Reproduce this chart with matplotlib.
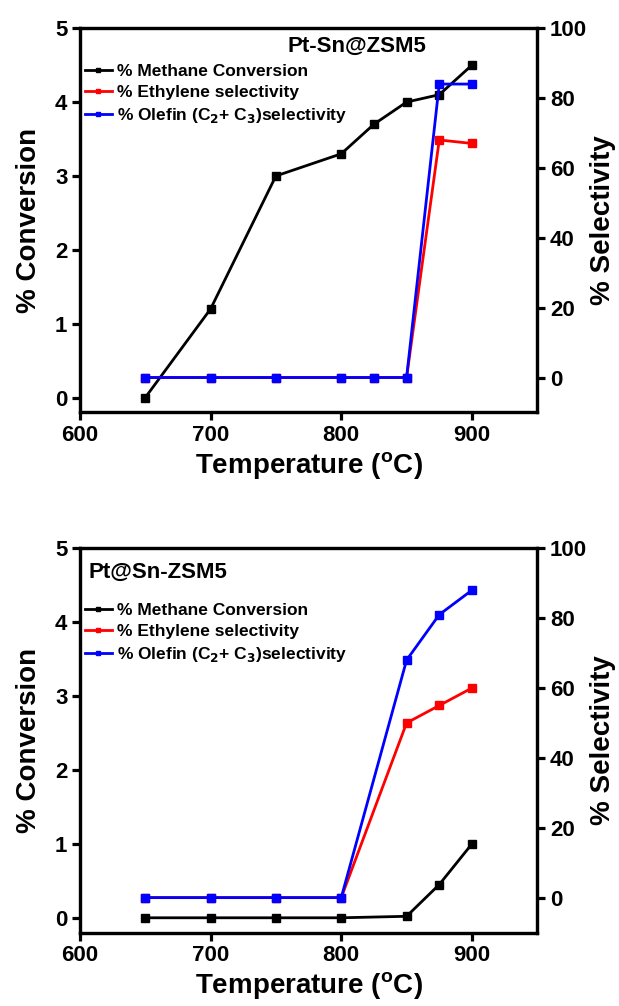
import numpy as np
import matplotlib
matplotlib.use("Agg")
import matplotlib.pyplot as plt

plt.rcParams['font.family'] = ['Liberation Sans', 'DejaVu Sans']
plt.rcParams['font.weight'] = 'bold'
plt.rcParams['mathtext.default'] = 'bf'

# temperatures (C)
temp_a = [650, 700, 750, 800, 825, 850, 875, 900]
temp_b = [650, 700, 750, 800, 850, 875, 900]

# Pt-Sn@ZSM5
conv_a = [0.0, 1.2, 3.0, 3.3, 3.7, 4.0, 4.1, 4.5]
ethyl_a = [0, 0, 0, 0, 0, 0, 68, 67]
olefin_a = [0, 0, 0, 0, 0, 0, 84, 84]

# Pt@Sn-ZSM5
conv_b = [0.0, 0.0, 0.0, 0.0, 0.02, 0.45, 1.0]
ethyl_b = [0, 0, 0, 0, 50, 55, 60]
olefin_b = [0, 0, 0, 0, 68, 81, 88]

labels = ['% Methane Conversion', '% Ethylene selectivity',
          '% Olefin (C$_2$+ C$_3$)selectivity']
xticks = [600, 700, 800, 900]

LW = 2.0
SPINE = 2.3


def style_axis(ax):
    for s in ax.spines.values():
        s.set_linewidth(SPINE)
    ax.tick_params(width=SPINE, length=6, labelsize=16, direction='out', pad=3)
    for lab in ax.get_xticklabels() + ax.get_yticklabels():
        lab.set_fontweight('bold')


def panel(rect, temp, conv, ethyl, olefin, title, title_xy, title_ha, leg_y):
    ax = fig.add_axes(rect)
    ax2 = ax.twinx()
    h1, = ax.plot(temp, conv, color='black', lw=LW, marker='s', ms=6)
    h2, = ax2.plot(temp, ethyl, color='#ff0000', lw=LW, marker='s', ms=6)
    h3, = ax2.plot(temp, olefin, color='#0000ff', lw=LW, marker='s', ms=6)

    ax.set_xlim(600, 950)
    ax.set_ylim(-0.2, 5)
    ax2.set_ylim(-10, 100)
    ax.set_xticks(xticks)
    ax.set_yticks([0, 1, 2, 3, 4, 5])
    ax2.set_yticks([0, 20, 40, 60, 80, 100])
    ax.tick_params(top=False)
    style_axis(ax)
    style_axis(ax2)

    ax.set_xlabel('Temperature ($^{\\mathregular{o}}$C)', fontsize=20,
                  fontweight='bold', labelpad=3)
    ax.set_ylabel('% Conversion', fontsize=20, fontweight='bold', labelpad=9)
    ax2.set_ylabel('% Selectivity', fontsize=20, fontweight='bold', labelpad=2)

    ax2.text(title_xy[0], title_xy[1], title, transform=ax.transAxes,
             fontsize=16, fontweight='bold', ha=title_ha, va='center')

    leg = ax2.legend([h1, h2, h3], labels, loc='upper left',
                     bbox_to_anchor=(-0.005, leg_y), frameon=False,
                     fontsize=12.5, handlelength=1.6, handletextpad=0.3,
                     labelspacing=0.33, borderaxespad=0.0, markerscale=0.6)
    for t in leg.get_texts():
        t.set_fontweight('bold')
    return ax


fig = plt.figure(figsize=(6.19, 10.06), dpi=100)

panel([0.129, 0.590, 0.739, 0.382], temp_a, conv_a, ethyl_a, olefin_a,
      'Pt-Sn@ZSM5', (0.606, 0.953), 'center', 0.925)
panel([0.129, 0.073, 0.739, 0.382], temp_b, conv_b, ethyl_b, olefin_b,
      'Pt@Sn-ZSM5', (0.02, 0.9375), 'left', 0.875)

fig.savefig('out.png', dpi=100)
